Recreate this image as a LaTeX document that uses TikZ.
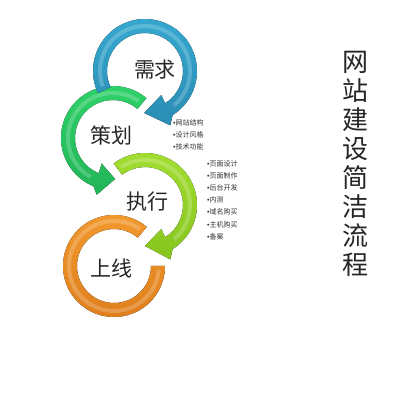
\documentclass[tikz,border=0pt]{standalone}
\usepackage{fontspec}
\setmainfont{Noto Sans CJK SC}
\newfontfamily\bulfont{Liberation Sans}
\newcommand\bul{{\bulfont •}}
\usetikzlibrary{calc}
\definecolor{blueC}{HTML}{36A9D1}
\definecolor{blueD}{HTML}{2A8DB4}
\definecolor{greenC}{HTML}{2FD36A}
\definecolor{greenD}{HTML}{22B458}
\definecolor{yelC}{HTML}{A3DF32}
\definecolor{yelD}{HTML}{86C51F}
\definecolor{oraC}{HTML}{F39A2E}
\definecolor{oraD}{HTML}{DE7E1C}
\begin{document}
\begin{tikzpicture}[x=1pt,y=1pt,
  biglabel/.style={font=\fontsize{21}{24}\selectfont, text=black!85, inner sep=0pt},
  listtext/.style={font=\fontsize{7}{12.2}\selectfont, text=black!80, align=left, anchor=north west, inner sep=0pt},
  titletext/.style={font=\fontsize{26}{28.9}\selectfont, text=black!85, align=center, inner sep=0pt},
  hl/.style={line width=4pt, white, opacity=0.2}]
\useasboundingbox (0,0) rectangle (400,400);
\fill[white] (0,0) rectangle (400,400);

\coordinate (B) at (145,329);
\coordinate (G) at (113,262);
\coordinate (Y) at (145,195);
\coordinate (O) at (114,134);

% orange ring
\fill[top color=oraC, bottom color=oraD]
  ($(O)+(50:51)$) arc[start angle=50,end angle=360,radius=51]
  -- ($(O)+(0:37)$) arc[start angle=360,end angle=50,radius=37] -- cycle;
\draw[hl] ($(O)+(55:45)$) arc[start angle=55,end angle=355,radius=45];

% yellow-green arrow
\fill[top color=yelC, bottom color=yelD]
  ($(Y)+(127:52)$) arc[start angle=127,end angle=-58,radius=52]
  -- ($(Y)+(-65:60)$) -- ($(Y)+(-90:41)$) -- ($(Y)+(-56:29)$)
  -- ($(Y)+(-58:38)$) arc[start angle=-58,end angle=127,radius=38] -- cycle;
\draw[hl] ($(Y)+(122:45)$) arc[start angle=122,end angle=-50,radius=45];

% green arrow
\fill[top color=greenC, bottom color=greenD]
  ($(G)+(50:52)$) arc[start angle=50,end angle=248,radius=52]
  -- ($(G)+(254:59)$) -- ($(G)+(273:41)$) -- ($(G)+(246:28)$)
  -- ($(G)+(248:38)$) arc[start angle=248,end angle=50,radius=38] -- cycle;
\draw[hl] ($(G)+(55:45)$) arc[start angle=55,end angle=240,radius=45];

% blue arrow
\fill[top color=blueC, bottom color=blueD]
  ($(B)+(205:52)$) arc[start angle=205,end angle=-58,radius=52]
  -- ($(B)+(-65:60)$) -- ($(B)+(-91:42)$) -- ($(B)+(-56:29)$)
  -- ($(B)+(-58:38)$) arc[start angle=-58,end angle=205,radius=38] -- cycle;
\draw[hl] ($(B)+(200:45)$) arc[start angle=200,end angle=-50,radius=45];

% labels
\node[biglabel] (xq) at (155,330) {需求};
\node[biglabel] (ch) at (112,265) {策划};
\node[biglabel] (zx) at (147,198) {执行};
\node[biglabel] (sx) at (112,132) {上线};

\node[listtext] (list1) at (173,281) {\bul 网站结构\\\bul 设计风格\\\bul 技术功能};
\node[listtext] (list2) at (207,240) {\bul 页面设计\\\bul 页面制作\\\bul 后台开发\\\bul 内测\\\bul 域名购买\\\bul 主机购买\\\bul 备案};

\node[titletext] (title) at (355,236) {网\\站\\建\\设\\简\\洁\\流\\程};
\end{tikzpicture}
\end{document}
